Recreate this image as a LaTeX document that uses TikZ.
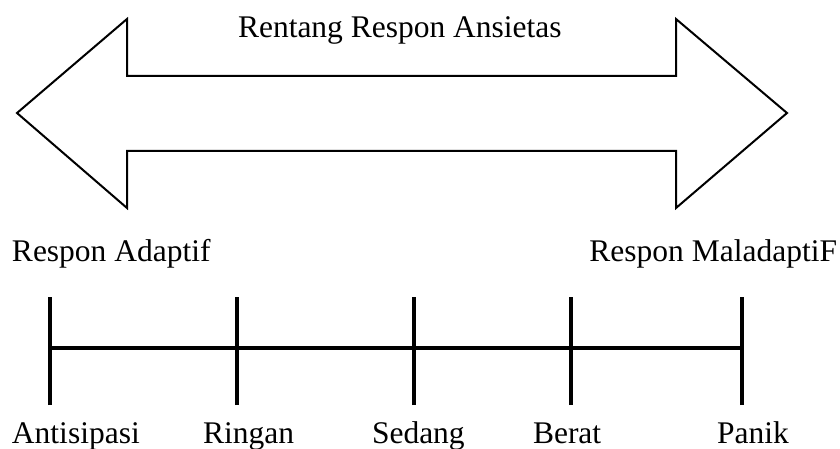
\documentclass[tikz,border=0pt]{standalone}
\usepackage{fontspec}
\setmainfont{Liberation Serif}
\begin{document}
\begin{tikzpicture}[x=1pt,y=-1pt,
  lbl/.style={inner sep=0pt,outer sep=0pt,font=\fontsize{31.5}{36}\selectfont},
  tick/.style={line width=3.5pt},
  axis/.style={line width=3.5pt},
  bigarrow/.style={line width=2pt,line join=miter}]
\useasboundingbox (0,0) rectangle (840,449);
% double arrow
\draw[bigarrow] (17,113) -- (127,19) -- (127,76) -- (676,76) -- (676,19) -- (787,113)
  -- (676,208) -- (676,151) -- (127,151) -- (127,208) -- cycle;
\node[lbl,anchor=base west] (title) at (238,38) {Rentang Respon Ansietas};
\node[lbl,anchor=base west] (adaptif) at (12,261) {Respon Adaptif};
\node[lbl,anchor=base east] (maladaptif) at (837,261) {Respon MaladaptiF};
% timeline
\coordinate (a) at (50,348);
\coordinate (b) at (237,348);
\coordinate (c) at (414,348);
\coordinate (d) at (571,348);
\coordinate (e) at (742,348);
\draw[axis] (a) -- (e);
\foreach \p in {a,b,c,d,e}{
  \draw[tick] ([yshift=-57pt]\p) -- ([yshift=51pt]\p);
}
\node[lbl,anchor=base west] (antisipasi) at (12,443) {Antisipasi};
\node[lbl,anchor=base west] (ringan) at (203,443) {Ringan};
\node[lbl,anchor=base west] (sedang) at (372,443) {Sedang};
\node[lbl,anchor=base west] (berat) at (533,443) {Berat};
\node[lbl,anchor=base west] (panik) at (717,443) {Panik};
\end{tikzpicture}
\end{document}
